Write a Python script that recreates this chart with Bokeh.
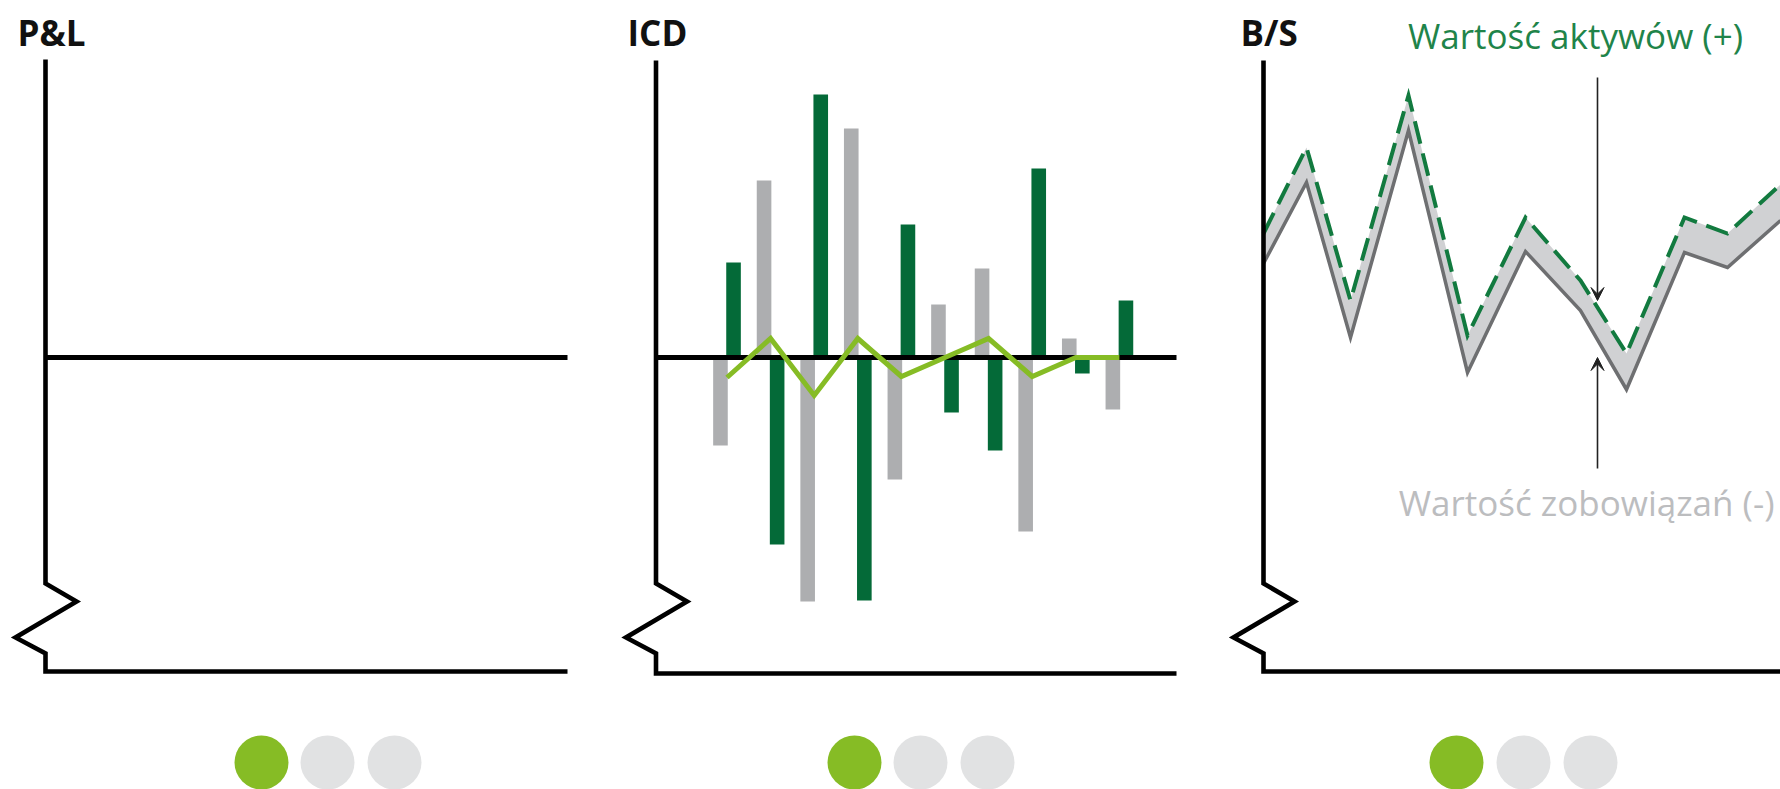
from bokeh.plotting import figure
from bokeh.layouts import row
from bokeh.models import Range1d, Label, Arrow, VeeHead
from bokeh.embed import file_html
from bokeh.resources import INLINE

# ---------------- data ----------------
panel_titles = ["P&L", "ICD", "B/S"]

icd_periods = [1, 2, 3, 4, 5, 6, 7, 8, 9, 10]
icd_grey = [-8.8, 17.7, -24.4, 22.9, -12.2, 5.3, 8.9, -17.4, 1.9, -5.2]
icd_green = [9.5, -18.7, 26.3, -24.3, 13.3, -5.5, -9.3, 18.9, -1.6, 5.7]
icd_line = [-2.0, 1.9, -3.8, 1.9, -1.9, 0.0, 1.9, -1.9, 0.0, 0.0]

bs_x = [0, 4.3, 8.7, 14.5, 20.4, 26.2, 31.7, 36.3, 42.1, 46.4, 51.7]
bs_assets = [12.4, 21.0, 5.7, 26.2, 2.2, 14.0, 7.7, 0.4, 14.0, 12.4, 17.3]
bs_liabilities = [9.4, 17.5, 2.0, 22.7, -1.5, 10.6, 4.7, -3.2, 10.5, 9.0, 13.7]

label_assets = "Wartość aktywów (+)"
label_liabilities = "Wartość zobowiązań (-)"

pager_active = [0, 0, 0]  # index of active dot per panel
pager_count = 3

# ---------------- style / layout ----------------
TOP = 0
H = 789
WIDTHS = [618, 610, 552]
LEFTS = [0, 618, 1228]
ZERO_Y = 357.0
Y_SCALE = 10.0

DARK_GREEN = "#046a38"
GREY_BAR = "#adaeb0"
LIGHT_GREEN = "#86bc25"
DOT_GREY = "#e1e2e3"
BAND = "#d0d1d3"
LIAB_LINE = "#6e6f71"
ASSET_LINE = "#127a3f"
TEXT_GREEN = "#1f844a"
TEXT_GREY = "#bcbdbf"

TITLE_BASE = 32
ASSET_BASE = 35
LIAB_BASE = 502


def cy(py):
    return (ZERO_Y - py) / Y_SCALE


def make_cx(px0, d0, s):
    return lambda px: d0 + (px - px0) / s


cxs = [make_cx(45, 0, 10.0), make_cx(726.5, 1, 43.6), make_cx(1263, 0, 10.0)]
axis_x = [45, 655.5, 1263]
axis_end = [567, 1176, 1800]
axis_top = [59, 60, 60]
axis_bottom = [671, 673, 671]
title_x = [17, 627, 1240]
dots_x = [[261, 327, 394], [854, 920, 987], [1456, 1523, 1590]]
DOT_Y = 762


def make_fig(i):
    cx = cxs[i]
    p = figure(width=WIDTHS[i], height=H,
               x_range=Range1d(cx(LEFTS[i]), cx(LEFTS[i] + WIDTHS[i])),
               y_range=Range1d(cy(TOP + H), cy(TOP)),
               output_backend="svg", toolbar_location=None,
               x_axis_type=None, y_axis_type=None, min_border=0)
    p.outline_line_color = None
    p.background_fill_color = "white"
    p.border_fill_color = "white"
    return p


def draw_axes(p, i, zero_line):
    cx = cxs[i]
    ax = axis_x[i]
    pts = [(ax, axis_top[i]), (ax, 583), (ax + 31, 601), (ax - 30, 637),
           (ax, 653), (ax, axis_bottom[i]), (axis_end[i], axis_bottom[i])]
    p.line([cx(a) for a, b in pts], [cy(b) for a, b in pts],
           line_color="black", line_width=4.6, line_join="miter")
    if zero_line:
        p.line([cx(ax), cx(axis_end[i])], [0, 0], line_color="black", line_width=5)


def draw_title_and_dots(p, i):
    cx = cxs[i]
    p.add_layout(Label(x=cx(title_x[i]), y=cy(TITLE_BASE), text=panel_titles[i],
                       text_font="Open Sans", text_font_style="bold",
                       text_font_size="35px", text_color="#111111",
                       text_baseline="alphabetic", text_align="left"))
    colors = [LIGHT_GREEN if k == pager_active[i] else DOT_GREY for k in range(pager_count)]
    p.scatter([cx(v) for v in dots_x[i]], [cy(DOT_Y)] * pager_count,
              size=54, fill_color=colors, line_color=None)


# ---- P&L ----
p1 = make_fig(0)
draw_axes(p1, 0, True)
draw_title_and_dots(p1, 0)

# ---- ICD ----
p2 = make_fig(1)
BAR_OFF = 0.15
BAR_W = 0.335
p2.vbar(x=[v - BAR_OFF for v in icd_periods], top=icd_grey, bottom=0,
        width=BAR_W, fill_color=GREY_BAR, line_color=None)
p2.vbar(x=[v + BAR_OFF for v in icd_periods], top=icd_green, bottom=0,
        width=BAR_W, fill_color=DARK_GREEN, line_color=None)
draw_axes(p2, 1, True)
p2.line(icd_periods, icd_line, line_color=LIGHT_GREEN, line_width=5, line_join="miter")
draw_title_and_dots(p2, 1)

# ---- B/S ----
p3 = make_fig(2)
p3.varea(x=bs_x, y1=bs_liabilities, y2=bs_assets, fill_color=BAND)
p3.line(bs_x, bs_liabilities, line_color=LIAB_LINE, line_width=3.5, line_join="miter")
p3.line(bs_x, bs_assets, line_color=ASSET_LINE, line_width=4, line_dash="23 10",
        line_join="miter")
draw_axes(p3, 2, False)
draw_title_and_dots(p3, 2)

cx3 = cxs[2]
ARROW_X = 1597
p3.add_layout(Arrow(end=VeeHead(size=13, fill_color="#222222", line_color="#222222"),
                    x_start=cx3(ARROW_X), y_start=cy(77), x_end=cx3(ARROW_X), y_end=cy(300),
                    line_color="#222222", line_width=1.6))
p3.add_layout(Arrow(end=VeeHead(size=13, fill_color="#222222", line_color="#222222"),
                    x_start=cx3(ARROW_X), y_start=cy(468), x_end=cx3(ARROW_X), y_end=cy(357),
                    line_color="#222222", line_width=1.6))
p3.add_layout(Label(x=cx3(1575), y=cy(ASSET_BASE), text=label_assets,
                    text_font="Open Sans", text_font_size="35px", text_color=TEXT_GREEN,
                    text_baseline="alphabetic", text_align="center"))
p3.add_layout(Label(x=cx3(1774), y=cy(LIAB_BASE), text=label_liabilities,
                    text_font="Open Sans", text_font_size="35px", text_color=TEXT_GREY,
                    text_baseline="alphabetic", text_align="right"))

layout = row(p1, p2, p3)
open("out.html", "w").write(file_html(layout, INLINE))
